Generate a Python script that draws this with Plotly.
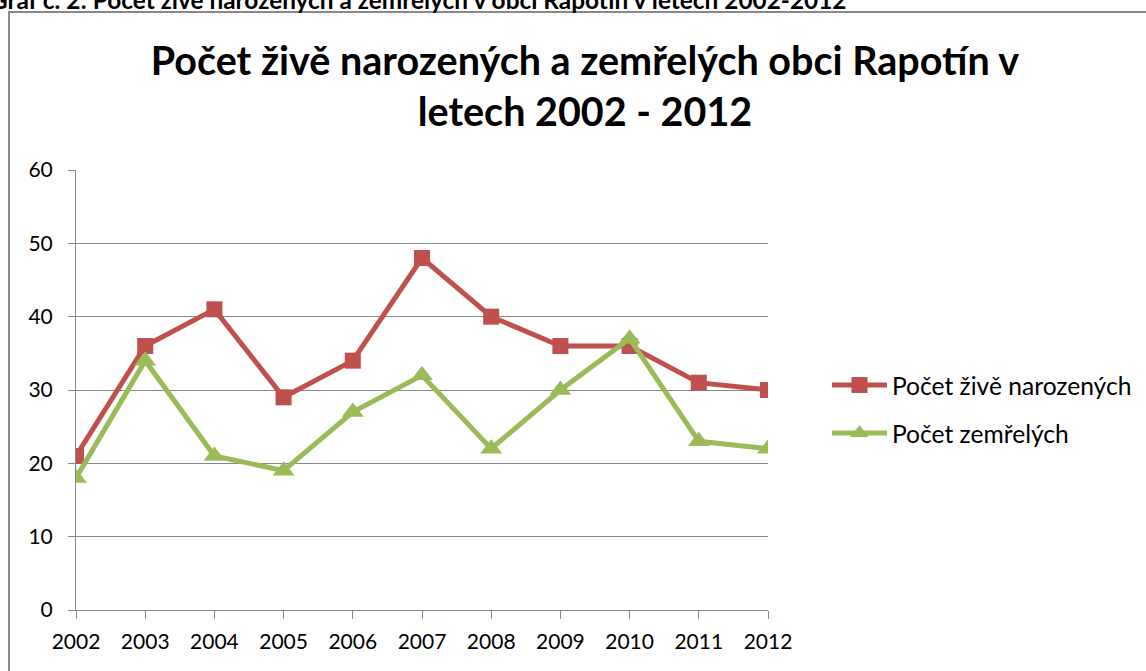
import plotly.graph_objects as go

years = ["2002", "2003", "2004", "2005", "2006", "2007", "2008", "2009", "2010", "2011", "2012"]
births = [21, 36, 41, 29, 34, 48, 40, 36, 36, 31, 30]
deaths = [18, 34, 21, 19, 27, 32, 22, 30, 37, 23, 22]
name_births = "Počet živě narozených"
name_deaths = "Počet zemřelých"
title_text = "Počet živě narozených a zemřelých obci Rapotín v<br>letech 2002 - 2012"
caption_text = "Graf č. 2: Počet živě narozených a zemřelých v obci Rapotín v letech 2002-2012"

RED = "#C0504D"
GREEN = "#9BBB59"
GRID = "#878787"
FONT = "Lato"

W, H = 1146, 671
L, R, T, B = 76, 378, 170, 61
pw = W - L - R
ph = H - T - B

def px_x(x):
    return (x - L) / pw

def px_y(y):
    return (H - B - y) / ph

fig = go.Figure()
fig.add_trace(go.Scatter(
    x=years, y=births, name=name_births, mode="lines+markers",
    line=dict(color=RED, width=5),
    marker=dict(symbol="square", size=16, color=RED),
    legend="legend",
))
fig.add_trace(go.Scatter(
    x=years, y=deaths, name=name_deaths, mode="lines+markers",
    line=dict(color=GREEN, width=5),
    marker=dict(symbol="triangle-up", size=19, color=GREEN),
    legend="legend2",
))

fig.update_layout(
    width=W, height=H,
    margin=dict(l=L, r=R, t=T, b=B, autoexpand=False),
    paper_bgcolor="white", plot_bgcolor="white",
    font=dict(family=FONT, color="black", size=21),
    title=dict(
        text="<b>" + title_text + "</b>",
        x=px_x(585), xref="paper", xanchor="center",
        y=1 - 75 / H, yref="container", yanchor="middle",
        font=dict(family=FONT, size=39.5, color="black"),
    ),
    showlegend=True,
    legend=dict(
        x=px_x(827), y=px_y(385), xanchor="left", yanchor="middle",
        font=dict(family=FONT, size=24.6), bgcolor="rgba(0,0,0,0)",
        itemwidth=55,
    ),
    legend2=dict(
        x=px_x(827), y=px_y(433), xanchor="left", yanchor="middle",
        font=dict(family=FONT, size=24.6), bgcolor="rgba(0,0,0,0)",
        itemwidth=55,
    ),
    xaxis=dict(
        type="category", range=[0, len(years) - 1],
        showline=True, linecolor=GRID, linewidth=1,
        ticks="outside", ticklen=8, tickcolor=GRID,
        showgrid=False, zeroline=False,
        tickfont=dict(family=FONT, size=21),
        ticklabelstandoff=5,
    ),
    yaxis=dict(
        range=[0, 60], dtick=10,
        showline=True, linecolor=GRID, linewidth=1,
        ticks="outside", ticklen=7, tickcolor=GRID,
        showgrid=True, gridcolor=GRID, gridwidth=1,
        zeroline=False,
        tickfont=dict(family=FONT, size=21),
        ticklabelstandoff=11,
    ),
    shapes=[dict(
        type="rect", xref="paper", yref="paper",
        x0=px_x(9), x1=px_x(1160), y0=px_y(12), y1=px_y(700),
        line=dict(color="#888888", width=2), layer="below",
    )],
    annotations=[dict(
        text="<b>" + caption_text + "</b>",
        xref="paper", yref="paper",
        x=px_x(849), xanchor="right",
        y=px_y(0), yanchor="middle",
        showarrow=False,
        font=dict(family=FONT, size=24.4, color="black"),
    )],
)

fig.write_html(
    "out.html",
    config={"displayModeBar": False},
    post_script="document.body.style.margin='0';document.body.style.overflow='hidden';",
)
